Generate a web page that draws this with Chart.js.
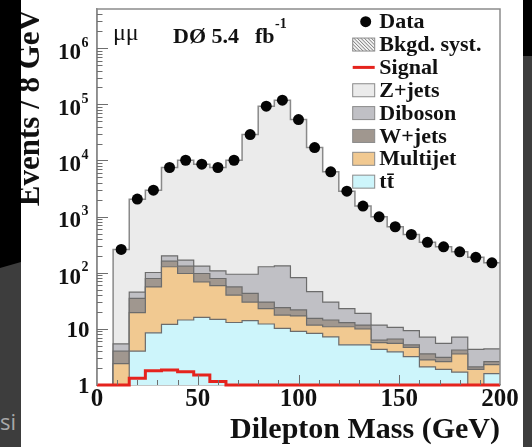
<!DOCTYPE html>
<html><head><meta charset="utf-8">
<script src="https://cdn.jsdelivr.net/npm/chart.js@4.4.1/dist/chart.umd.min.js"></script>
<style>
html,body{margin:0;padding:0;width:532px;height:447px;overflow:hidden;background:#3d3d3d;}
#lblack{position:absolute;left:0;top:0;width:21px;height:268px;background:#000;clip-path:polygon(0 0,100% 0,100% 262px,0 268px);}
#rblack{position:absolute;left:523px;top:0;width:9px;height:56px;background:#000;}
#si{position:absolute;left:0;top:406px;font:22px "Open Sans",sans-serif;color:#a8a8a8;}
#wrap{position:absolute;left:21px;top:0;width:502px;height:447px;background:#fff;}
canvas{display:block;}
</style></head>
<body>
<div id="lblack"></div><div id="rblack"></div><div id="si">si</div>
<div id="wrap"><canvas id="c" width="502" height="447"></canvas></div>
<script>
// ---- data (bins of 8 GeV, lower edges) ----
const binLow = [0,8,16,24,32,40,48,56,64,72,80,88,96,104,112,120,128,136,144,152,160,168,176,184,192];
const xMax = 200;
const dataEvents = [null,260,2050,2960,7500,10100,8600,7500,10100,29000,92700,118600,53700,17000,6280,2840,1540,990,660,480,348,290,236,188,150];
const ttbar    = [0,0,4.0,8.5,12,14.4,16,14.8,13,14,12.2,10.2,9,8.3,7.2,5.2,5.2,4.3,3.9,3.2,2.1,1.9,1.7,0,1.6];
const multijet = [0,2.4,15.4,47.5,116,82.6,53,44.2,27,16,10.8,7.4,8,3.4,3.7,5.7,4.8,1.4,1.6,1.5,0.7,0.7,1.9,1.9,0.7];
const wjets    = [0,1.6,15.6,23,33,34,28,20,16,13,7,6.4,4.8,3.7,3.5,2.0,1.7,0.6,1.1,0.5,0.8,0.5,0.6,0.2,0.3];
const diboson  = [0,1.4,10,22,39,37,34,29,38,51,98,109,60,30.6,15.6,10.1,7.2,5.4,4.0,4.1,3.5,2.4,2.9,2.2,1.8];
const zjets    = [0,255,2000,2860,7300,9900,8450,7400,10000,28900,92500,118500,53600,16950,6250,2820,1520,978,650,470,341,285,229,184,146];
const signal   = [1,1,1.32,1.8,1.85,1.73,1.5,1.15,1,1,1,1,1,1,1,1,1,1,1,1,1,1,1,1,1];
const yTickValues = [1,10,100,1000,10000,100000,1000000];
const yTickLabels = ['1','10','10^2','10^3','10^4','10^5','10^6'];
const xTickStep = 50;
const legendLabels = ['Data','Bkgd. syst.','Signal','Z+jets','Diboson','W+jets','Multijet','tt\u0304'];

const SERIF = '"Liberation Serif","Times New Roman",serif';
const layerColors = ['#cdf5fb','#f1c991','#a0978f','#c0c0c5','#ebebeb'];
const layerNames = ['tt\u0304','Multijet','W+jets','Diboson','Z+jets'];
const layers = [ttbar, multijet, wjets, diboson, zjets];
const Y_MIN = 1, Y_MAX = 5e6;

let run = binLow.map(() => 0);
const cum = layers.map(l => { run = run.map((v, i) => v + l[i]); return run.slice(); });
function steps(vals) {
  const pts = binLow.map((x, i) => ({x, y: Math.max(vals[i], Y_MIN)}));
  pts.push({x: xMax, y: Math.max(vals[vals.length - 1], Y_MIN)});
  return pts;
}
const datasets = cum.map((c, k) => ({
  label: layerNames[k], data: steps(c), stepped: true, pointRadius: 0,
  borderColor: k === 4 ? '#8a8a8a' : '#6c6c6c', borderWidth: k === 4 ? 1.5 : 1.2,
  backgroundColor: layerColors[k], fill: k === 0 ? 'start' : '-1', order: 0
}));
datasets.push({
  label: 'Signal', data: steps(signal), stepped: true, pointRadius: 0,
  borderColor: '#e5231d', borderWidth: 3, fill: false, clip: false, order: -1
});
datasets.push({
  label: 'Data', showLine: false,
  data: binLow.map((x, i) => dataEvents[i] == null ? null : {x: x + 4, y: dataEvents[i]}).filter(p => p),
  pointRadius: 5.5, pointBackgroundColor: '#050505', pointBorderWidth: 0, fill: false, order: -2
});

function drawHatch(ctx, bx, by, w, h) {
  ctx.save();
  ctx.fillStyle = '#f2f2f2'; ctx.fillRect(bx, by, w, h);
  ctx.beginPath(); ctx.rect(bx, by, w, h); ctx.clip();
  ctx.strokeStyle = '#7a7a7a'; ctx.lineWidth = 1;
  for (let k = -h; k < w; k += 3.5) { ctx.beginPath(); ctx.moveTo(bx + k, by); ctx.lineTo(bx + k + h, by + h); ctx.stroke(); }
  ctx.restore();
  ctx.strokeStyle = '#8a8a8a'; ctx.lineWidth = 1; ctx.strokeRect(bx, by, w, h);
}

const decor = {
  id: 'decor',
  afterDatasetsDraw(chart) {
    const {ctx, chartArea: a, scales: {x, y}} = chart;
    ctx.save();
    ctx.strokeStyle = '#8c8c8c'; ctx.lineWidth = 1.5;
    ctx.beginPath(); ctx.moveTo(a.left, a.bottom); ctx.lineTo(a.left, a.top); ctx.lineTo(a.right, a.top); ctx.lineTo(a.right, a.bottom); ctx.stroke();
    ctx.strokeStyle = '#6e6e6e'; ctx.lineWidth = 1;
    for (let d = 0; d <= 6; d++) for (let m = 1; m <= 9; m++) {
      const v = m * Math.pow(10, d);
      if (v >= Y_MAX || v <= Y_MIN) continue;
      const py = Math.round(y.getPixelForValue(v)) + 0.5;
      const len = m === 1 ? 11 : 5.5;
      ctx.beginPath(); ctx.moveTo(a.left, py); ctx.lineTo(a.left + len, py); ctx.stroke();
    }
    for (let v = 10; v < xMax; v += 10) {
      const px = Math.round(x.getPixelForValue(v)) + 0.5;
      const len = v % xTickStep === 0 ? 10 : 5;
      ctx.beginPath(); ctx.moveTo(px, a.bottom); ctx.lineTo(px, a.bottom - len); ctx.stroke();
    }
    ctx.restore();
  },
  afterDraw(chart) {
    const {ctx, scales: {y}} = chart;
    ctx.save();
    ctx.fillStyle = '#111';
    ctx.textBaseline = 'alphabetic';
    const rightEdge = 67.5;
    yTickValues.forEach((v, i) => {
      const py = y.getPixelForValue(v);
      const lab = yTickLabels[i];
      if (lab.includes('^')) {
        const [b, e] = lab.split('^');
        ctx.font = 'bold 14px ' + SERIF;
        const ew = ctx.measureText(e).width;
        ctx.textAlign = 'right';
        ctx.fillText(e, rightEdge, py - 1.5);
        ctx.font = 'bold 23px ' + SERIF;
        ctx.fillText(b, rightEdge - ew - 0.5, py + 10.8);
      } else {
        ctx.font = 'bold 23px ' + SERIF;
        ctx.textAlign = 'right';
        ctx.fillText(lab, rightEdge + 1, py + 7.8);
      }
    });
    // annotations
    ctx.textAlign = 'left';
    ctx.font = '24px ' + SERIF;
    ctx.fillText('\u03bc\u03bc', 92, 40);
    ctx.font = 'bold 22px ' + SERIF;
    ctx.fillText('D\u00d8 5.4', 152, 43);
    ctx.fillText('fb', 234, 43);
    ctx.font = 'bold 14px ' + SERIF;
    ctx.fillText('-1', 254, 28);
    // legend
    const bx = 331.7, bw = 22, bh = 13, tx = 358.3, y0 = 21.7, step = 22.85;
    legendLabels.forEach((lab, k) => {
      const cy = y0 + step * k;
      if (k === 0) {
        ctx.fillStyle = '#050505'; ctx.beginPath(); ctx.arc(bx + bw / 2 + 2, cy, 5.5, 0, Math.PI * 2); ctx.fill();
      } else if (k === 1) {
        drawHatch(ctx, bx, cy - bh / 2, bw, bh);
      } else if (k === 2) {
        ctx.strokeStyle = '#e5231d'; ctx.lineWidth = 3; ctx.beginPath(); ctx.moveTo(bx, cy); ctx.lineTo(bx + bw, cy); ctx.stroke();
      } else {
        const ci = 4 - (k - 3);
        ctx.fillStyle = layerColors[ci]; ctx.fillRect(bx, cy - bh / 2, bw, bh);
        ctx.strokeStyle = '#8a8a8a'; ctx.lineWidth = 1; ctx.strokeRect(bx, cy - bh / 2, bw, bh);
      }
      ctx.fillStyle = '#111'; ctx.font = 'bold 22px ' + SERIF; ctx.textBaseline = 'middle'; ctx.textAlign = 'left';
      ctx.fillText(lab, tx, cy + 1);
    });
    ctx.restore();
  }
};

new Chart(document.getElementById('c'), {
  type: 'line',
  data: {datasets},
  plugins: [decor],
  options: {
    responsive: false, animation: false, devicePixelRatio: 1,
    layout: {padding: {left: 0, right: 23, top: 9, bottom: 0}},
    plugins: {legend: {display: false}, tooltip: {enabled: false}},
    elements: {line: {tension: 0}},
    scales: {
      x: {
        type: 'linear', min: 0, max: xMax,
        grid: {display: false, drawTicks: false},
        border: {display: true, color: '#8c8c8c', width: 1.5},
        ticks: {stepSize: xTickStep, color: '#111', padding: 0, maxRotation: 0, font: {family: SERIF, weight: 'bold', size: 25, lineHeight: 1.2}},
        title: {display: true, text: 'Dilepton Mass (GeV)', align: 'end', color: '#111', padding: {top: 0, bottom: 2}, font: {family: SERIF, weight: 'bold', size: 30, lineHeight: 1}},
        afterFit(s) { s.height = 62; }
      },
      y: {
        type: 'logarithmic', min: Y_MIN, max: Y_MAX,
        grid: {display: false, drawTicks: false},
        border: {display: true, color: '#8c8c8c', width: 1.5},
        ticks: {display: false},
        title: {display: true, text: 'Events / 8 GeV', align: 'end', color: '#111', padding: {top: 0, bottom: 0}, font: {family: SERIF, weight: 'bold', size: 31, lineHeight: 0.645}},
        afterFit(s) { s.width = 76; }
      }
    }
  }
});
</script>
</body></html>
